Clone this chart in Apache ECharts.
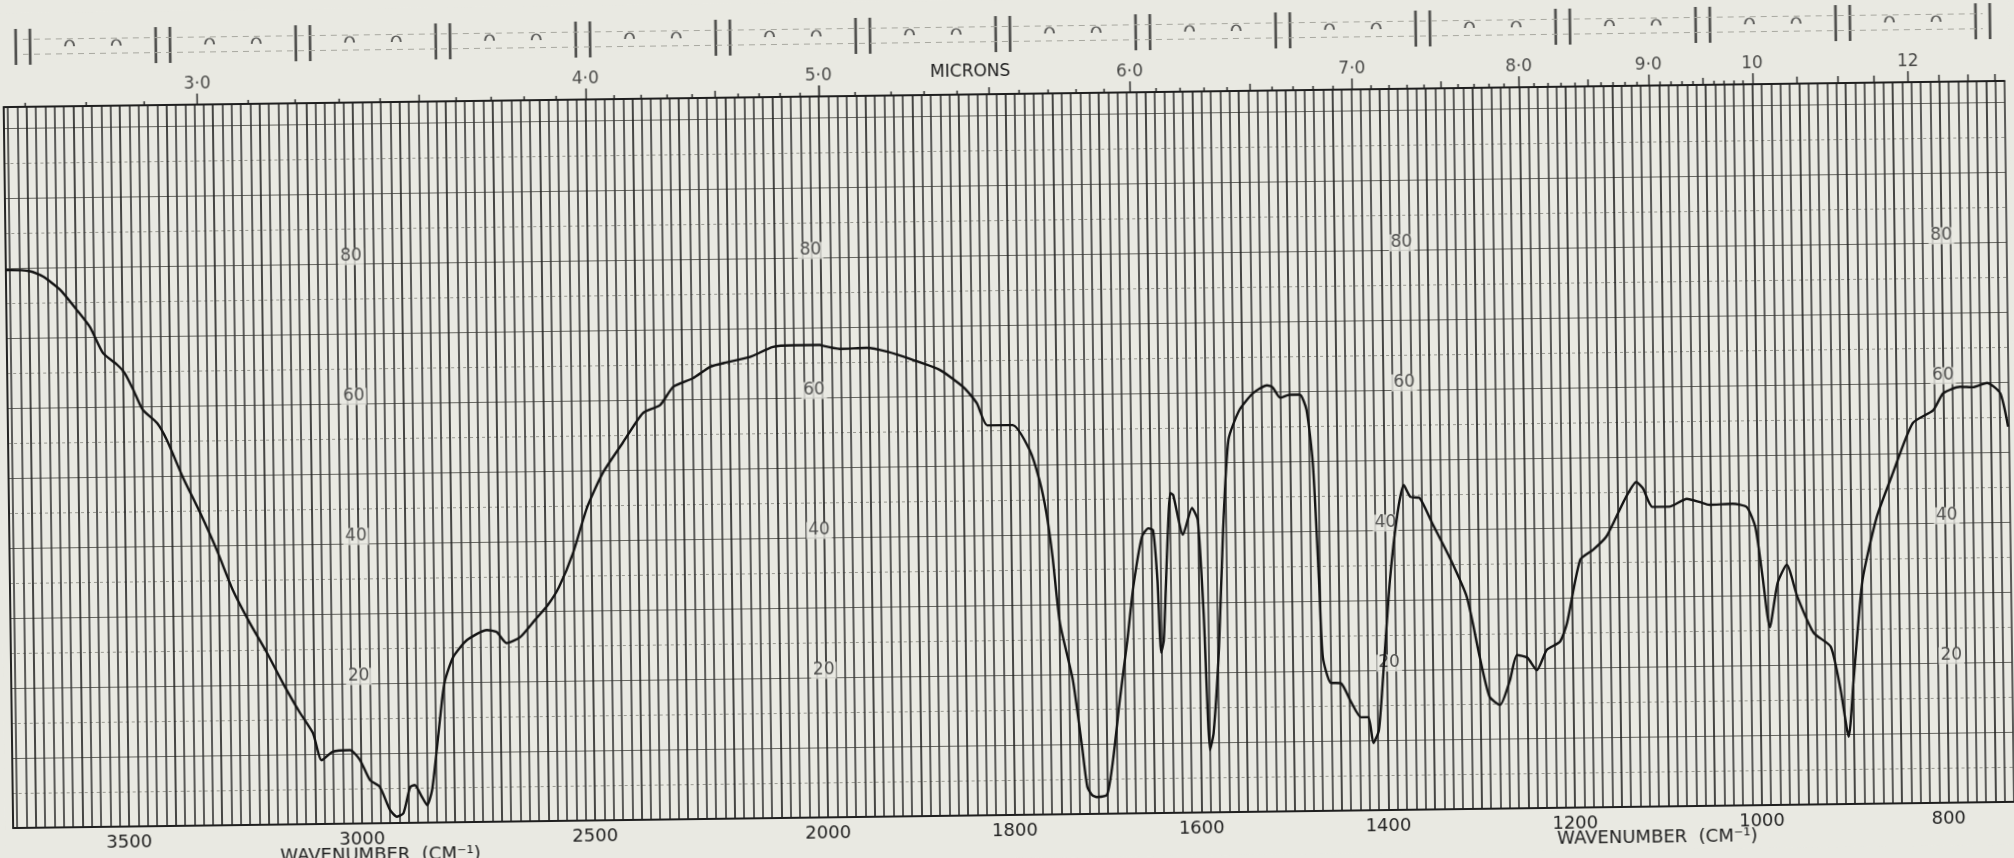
<!DOCTYPE html>
<html>
<head>
<meta charset="utf-8">
<title>IR spectrum</title>
<script src="https://cdn.jsdelivr.net/npm/echarts@6/dist/echarts.min.js"></script>
<style>
  html, body { margin: 0; padding: 0; background: #e9e9e2; overflow: hidden; }
  #chart {
    position: absolute; left: 0; top: 0; width: 2014px; height: 858px;
    transform: rotate(-0.75deg); transform-origin: 50% 50%;
  }
</style>
</head>
<body>
<div id="chart"></div>
<script>
// Infrared transmission spectrum, % transmittance against wavenumber (cm-1).
// The chart paper uses half scale above 2000 cm-1 and full scale below it.

// 3750 - 2000 cm-1 section: [wavenumber, %T]
const traceHigh = [
  [3749, 79.7], [3740, 79.7], [3697, 79.5], [3669, 78.7], [3633, 76.8], [3598, 73.9],
  [3570, 71.4], [3543, 67.7], [3513, 66.0], [3497, 64.8], [3479, 62.4], [3459, 59.5],
  [3429, 57.6], [3408, 55.1], [3375, 49.8], [3339, 44.7], [3304, 39.3], [3271, 33.6],
  [3235, 28.8], [3199, 24.5], [3166, 20.2], [3131, 16.0], [3103, 13.0], [3085, 9.1],
  [3061, 10.3], [3024, 10.5], [3003, 9.1], [2982, 6.2], [2961, 5.2], [2940, 1.9],
  [2925, 0.9], [2911, 1.4], [2896, 5.1], [2886, 5.4], [2871, 3.7], [2860, 2.5],
  [2849, 4.6], [2837, 10.8], [2825, 17.5], [2818, 20.3], [2800, 23.6], [2770, 26.0],
  [2727, 27.4], [2706, 27.1], [2685, 25.5], [2656, 26.3], [2624, 28.7], [2595, 30.9],
  [2571, 33.4], [2540, 38.2], [2508, 44.8], [2474, 49.6], [2430, 53.9], [2386, 58.1],
  [2349, 59.2], [2320, 61.8], [2277, 63.0], [2240, 64.6], [2204, 65.2], [2155, 65.9],
  [2105, 67.3], [2062, 67.5], [2004, 67.5], [2000, 67.4]
];

// 2000 - 730 cm-1 section: [wavenumber, %T]
const traceLow = [
  [2000, 67.4], [1981, 66.9], [1952, 67.0], [1930, 66.4], [1903, 65.2], [1874, 63.7],
  [1849, 61.2], [1835, 58.9], [1824, 55.7], [1797, 55.7], [1779, 52.1], [1769, 47.8],
  [1762, 43.1], [1756, 36.8], [1749, 27.3], [1736, 19.2], [1727, 9.6], [1722, 3.9],
  [1717, 2.7], [1712, 2.4], [1701, 2.7], [1694, 7.7], [1686, 16.2], [1677, 24.8],
  [1670, 32.3], [1660, 39.5], [1653, 40.7], [1648, 40.4], [1644, 33.3], [1641, 22.9],
  [1638, 24.7], [1633, 38.0], [1629, 45.7], [1626, 45.4], [1616, 39.7], [1606, 43.5],
  [1600, 41.8], [1595, 28.5], [1590, 8.9], [1586, 11.3], [1579, 23.6], [1573, 40.3],
  [1566, 53.2], [1554, 57.4], [1539, 59.8], [1524, 60.9], [1518, 60.6], [1510, 59.1],
  [1500, 59.5], [1489, 59.5], [1482, 57.3], [1476, 49.7], [1471, 33.0], [1468, 22.0],
  [1460, 18.3], [1449, 18.2], [1438, 15.4], [1428, 13.3], [1420, 13.3], [1415, 9.6],
  [1409, 11.4], [1404, 18.6], [1395, 32.9], [1386, 42.4], [1379, 46.4], [1372, 44.7],
  [1362, 44.5], [1349, 40.9], [1331, 36.0], [1313, 30.3], [1300, 21.7], [1290, 16.0],
  [1279, 14.8], [1268, 18.3], [1260, 21.9], [1249, 21.5], [1239, 19.7], [1228, 22.6],
  [1214, 23.7], [1206, 26.4], [1191, 35.4], [1177, 36.8], [1163, 38.6], [1152, 41.4],
  [1141, 44.3], [1130, 46.4], [1123, 45.5], [1113, 42.8], [1095, 42.8], [1076, 43.9],
  [1062, 43.4], [1052, 43.0], [1027, 43.1], [1012, 42.6], [1003, 39.7], [996, 32.6],
  [989, 25.4], [980, 31.7], [970, 34.3], [959, 29.7], [942, 24.5], [924, 22.5],
  [914, 16.3], [906, 9.6], [900, 17.7], [889, 32.0], [873, 40.9], [855, 47.2],
  [833, 54.3], [811, 56.1], [800, 58.5], [782, 59.4], [768, 59.3], [753, 59.9],
  [739, 58.4], [731, 53.6]
];

// Wavenumber tick labels along the bottom edge
const wavenumberLabelsHigh = [3500, 3000, 2500];
const wavenumberLabelsLow = [2000, 1800, 1600, 1400, 1200, 1000, 800];

// Wavelength scale along the top edge (microns)
const micronLabels = [3, 4, 5, 6, 7, 8, 9, 10, 12, 14];
const micronHalfSteps = [10.5, 11, 11.5, 12.5, 13, 13.5];

// Transmittance figures printed inside the grid: [wavenumber, %T]
// (the printed columns lean slightly, following the pen arc)
const transLabelsHigh = [
  [3008, 80], [3006, 60], [3005, 40], [3003, 20],
  [2022, 80], [2018, 60], [2011, 40], [2005, 20]
];
const transLabelsLow = [
  [1378, 80], [1377, 60], [1399, 40], [1397, 20],
  [800, 80], [800, 60], [798, 40], [795, 20]
];

// ---------------------------------------------------------------------------
const PAPER = '#e9e9e2';
const INK = '#1f1f1f';
const FONT = "'DejaVu Sans', 'Liberation Sans', sans-serif";
const TOP = 94, HEIGHT = 721, Y_MAX = 103;

const panels = [
  { left: 8,   width: 815,  min: 2000, max: 3749, step: 20, edgeLine: true,
    lineColors: ['#1c1c1c', '#363636', '#363636', '#363636', '#363636'],
    labels: wavenumberLabelsHigh, trace: traceHigh, printed: transLabelsHigh },
  { left: 823, width: 1186, min: 730,  max: 2000, step: 10, edgeLine: false,
    lineColors: ['#363636', '#363636', '#1c1c1c', '#363636', '#363636'],
    labels: wavenumberLabelsLow, trace: traceLow, printed: transLabelsLow }
];

// micron tick marks, converted to wavenumber
const toWavenumber = (um) => 1e4 / um;
const ticksMinor = [], ticksMid = [], ticksMajor = [];
for (let i = 27; i <= 100; i++) {
  const um = i / 10;
  if (micronLabels.includes(um)) ticksMajor.push(toWavenumber(um));
  else if (i % 5 === 0) ticksMid.push(toWavenumber(um));
  else ticksMinor.push(toWavenumber(um));
}
micronHalfSteps.forEach(um => ticksMid.push(toWavenumber(um)));
micronLabels.filter(um => um > 10).forEach(um => ticksMajor.push(toWavenumber(um)));

const inside = (p) => (v) => v >= p.min - 1e-6 && v <= p.max + 1e-6;

const grids = [], xAxes = [], yAxes = [], series = [];

panels.forEach((p, gi) => {
  grids.push({ left: p.left, width: p.width, top: TOP, height: HEIGHT, outerBoundsMode: 'none' });
  const base = { type: 'value', gridIndex: gi, min: p.min, max: p.max, inverse: true };
  const xBase = xAxes.length;

  // bottom wavenumber axis carrying the vertical rulings
  xAxes.push(Object.assign({}, base, {
    position: 'bottom', interval: p.step,
    axisLine: { show: true, onZero: false, lineStyle: { color: INK, width: 1.8 } },
    axisTick: { show: false },
    axisLabel: {
      customValues: p.labels, margin: 7, fontSize: 18, color: '#222', fontFamily: FONT,
      formatter: (v) => String(v)
    },
    splitLine: { show: true, showMaxLine: p.edgeLine, lineStyle: { color: p.lineColors, width: 1.6 } }
  }));

  // top micron scale: short, medium and long ticks
  [[ticksMinor, 4, true], [ticksMid, 7, false], [ticksMajor, 11, false]].forEach(([vals, len, line]) => {
    xAxes.push(Object.assign({}, base, {
      position: 'top', offset: 0,
      axisLine: { show: line, onZero: false, lineStyle: { color: INK, width: 1.8 } },
      axisTick: { show: true, inside: false, length: len, customValues: vals.filter(inside(p)),
                  lineStyle: { color: INK, width: 1.4 } },
      axisLabel: { show: false },
      splitLine: { show: false }
    }));
  });

  yAxes.push({
    type: 'value', gridIndex: gi, min: 0, max: Y_MAX, interval: 10,
    axisLine: { show: gi === 0, onZero: false, lineStyle: { color: INK, width: 1.8 } },
    axisTick: { show: false }, axisLabel: { show: false },
    splitLine: { show: true, lineStyle: { color: '#666660', width: 1.1 } },
    minorTick: { show: false, splitNumber: 2 },
    minorSplitLine: { show: true, lineStyle: { color: '#9a9a92', width: 1, type: [3, 3] } }
  });

  // spectrum trace
  series.push({
    type: 'line', xAxisIndex: xBase, yAxisIndex: gi, data: p.trace,
    showSymbol: false, smooth: 0.2, z: 5, silent: true,
    lineStyle: { color: '#141414', width: 2.4 }
  });

  // %T figures printed on the paper
  series.push({
    type: 'scatter', xAxisIndex: xBase, yAxisIndex: gi, data: p.printed, clip: false,
    symbolSize: 1, itemStyle: { color: 'rgba(0,0,0,0)' }, z: 4, silent: true,
    label: {
      show: true, position: 'top', distance: -2, formatter: (d) => String(d.value[1]),
      fontSize: 17, color: '#2a2a2a', fontFamily: FONT, backgroundColor: PAPER, padding: [0, 2, 0, 2]
    }
  });

  // micron figures above the top scale
  const micronData = micronLabels.map(um => [toWavenumber(um), Y_MAX])
    .filter(d => gi === 0 ? d[0] > 2000 : d[0] <= 2000);
  series.push({
    type: 'scatter', xAxisIndex: xBase, yAxisIndex: gi, data: micronData, clip: false,
    symbolSize: 1, itemStyle: { color: 'rgba(0,0,0,0)' }, silent: true,
    label: {
      show: true, position: 'top', distance: 11, fontSize: 17, color: '#1e1e1e', fontFamily: FONT,
      formatter: (d) => {
        const um = Math.round(1e5 / d.value[0]) / 10;
        return um >= 10 ? String(um) : um.toFixed(1).replace('.', '\u00b7');
      }
    }
  });
});

// timing marks printed along the top edge of the paper
const markGrid = grids.length;
grids.push({ left: 28, width: 1960, top: 16, height: 36, outerBoundsMode: 'none' });
xAxes.push({ type: 'value', gridIndex: markGrid, min: 0, max: 14, show: false });
yAxes.push({ type: 'value', gridIndex: markGrid, min: 0, max: 1, show: false });
const pairMarks = [], arcMarks = [];
for (let k = 0; k <= 14; k++) {
  pairMarks.push([k, 0.5]);
  if (k < 14) { arcMarks.push([k + 1 / 3, 0.58]); arcMarks.push([k + 2 / 3, 0.58]); }
}
series.push({
  type: 'scatter', xAxisIndex: xAxes.length - 1, yAxisIndex: yAxes.length - 1,
  data: pairMarks, silent: true, clip: false,
  symbol: 'path://M0,0 L1.6,0 L1.6,20 L0,20 Z M8.4,0 L10,0 L10,20 L8.4,20 Z',
  symbolSize: [17, 36], itemStyle: { color: '#2a2a2a' },
  markLine: {
    silent: true, symbol: 'none', label: { show: false },
    lineStyle: { color: '#a8a8a0', width: 1, type: [6, 5] },
    data: [{ yAxis: 0.72 }, { yAxis: 0.3 }]
  }
});
series.push({
  type: 'scatter', xAxisIndex: xAxes.length - 1, yAxisIndex: yAxes.length - 1,
  data: arcMarks, silent: true, clip: false,
  symbol: 'path://M0,8 C0,0 10,0 10,8', symbolSize: [9, 6],
  itemStyle: { color: 'rgba(0,0,0,0)', borderColor: '#333', borderWidth: 1.6 }
});

const chart = echarts.init(document.getElementById('chart'), null, { renderer: 'canvas', width: 2014, height: 858 });
chart.setOption({
  backgroundColor: PAPER,
  animation: false,
  grid: grids,
  xAxis: xAxes,
  yAxis: yAxes,
  series: series,
  graphic: [
    { type: 'text', x: 975, y: 72, silent: true,
      style: { text: 'MICRONS', font: '17px ' + FONT, fill: '#222', align: 'center', verticalAlign: 'middle' } },
    { type: 'text', x: 375, y: 847, silent: true,
      style: { text: 'WAVENUMBER  (CM\u207B\u00B9)', font: '18px ' + FONT, fill: '#222', align: 'center', verticalAlign: 'middle' } },
    { type: 'text', x: 1652, y: 846, silent: true,
      style: { text: 'WAVENUMBER  (CM\u207B\u00B9)', font: '18px ' + FONT, fill: '#222', align: 'center', verticalAlign: 'middle' } }
  ]
});
</script>
</body>
</html>
